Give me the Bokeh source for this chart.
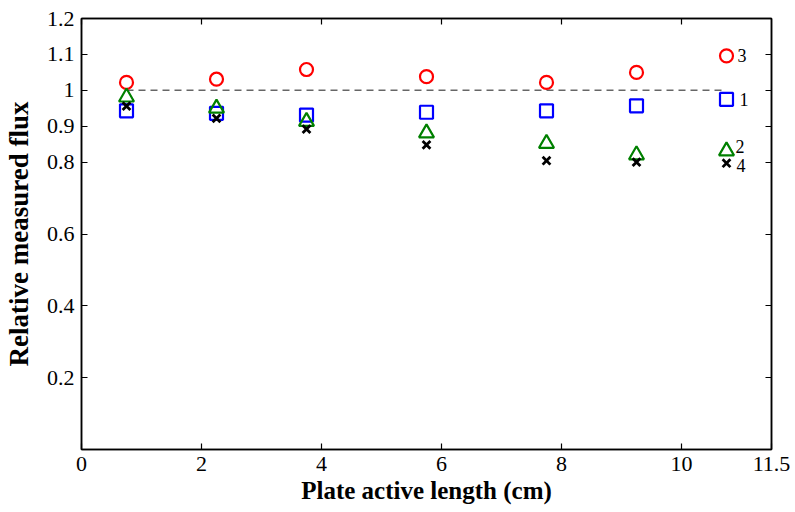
from bokeh.plotting import figure
from bokeh.models import FixedTicker, LinearAxis, Range1d
from bokeh.core.properties import value
from bokeh.embed import file_html
from bokeh.resources import INLINE

# Data
x_pos = [0.75, 2.25, 3.75, 5.75, 7.75, 9.25, 10.75]
series1 = [0.943, 0.936, 0.931, 0.939, 0.943, 0.957, 0.975]   # blue squares
series2 = [0.981, 0.950, 0.913, 0.881, 0.852, 0.820, 0.831]   # green triangles
series3 = [1.022, 1.031, 1.058, 1.038, 1.022, 1.050, 1.096]   # red circles
series4 = [0.956, 0.922, 0.892, 0.848, 0.804, 0.800, 0.797]   # black crosses
ref_value = 1.0
x_ticks = [0, 2, 4, 6, 8, 10, 11.5]
x_tick_labels = ["0", "2", "4", "6", "8", "10", "11.5"]
y_ticks = [0.2, 0.4, 0.6, 0.8, 0.9, 1.0, 1.1, 1.2]
y_tick_labels = ["0.2", "0.4", "0.6", "0.8", "0.9", "1", "1.1", "1.2"]

FONT = "Liberation Serif"

p = figure(width=795, height=512, output_backend="svg", toolbar_location=None,
           x_range=Range1d(0, 11.5), y_range=Range1d(0, 1.2),
           min_border_left=81, min_border_right=24, min_border_top=18, min_border_bottom=63)
p.xgrid.visible = False
p.ygrid.visible = False
p.outline_line_color = "black"
p.outline_line_width = 1.5
p.background_fill_color = "white"


def style_axis(ax, ticks, labels, show_labels=True):
    ax.ticker = FixedTicker(ticks=ticks)
    ax.major_label_overrides = {t: l for t, l in zip(ticks, labels)}
    ax.major_tick_in = 6
    ax.major_tick_out = 0
    ax.minor_tick_in = 0
    ax.minor_tick_out = 0
    ax.axis_line_color = "black"
    ax.axis_line_width = 1.5
    ax.major_tick_line_color = "black"
    ax.major_tick_line_width = 1.2
    ax.major_label_text_font = FONT
    ax.major_label_text_font_size = "22px"
    ax.major_label_text_color = "black"
    ax.major_label_standoff = 7
    if not show_labels:
        ax.major_label_text_alpha = 0.0
        ax.major_label_text_font_size = "1px"
        ax.major_label_standoff = 0


style_axis(p.xaxis[0], x_ticks, x_tick_labels)
style_axis(p.yaxis[0], y_ticks, y_tick_labels)
p.xaxis[0].axis_label = "Plate active length (cm)"
p.yaxis[0].axis_label = "Relative measured flux"
for ax in (p.xaxis[0], p.yaxis[0]):
    ax.axis_label_text_font = FONT
    ax.axis_label_text_font_style = "bold"
    ax.axis_label_text_color = "black"
p.xaxis[0].axis_label_text_font_size = "25px"
p.yaxis[0].axis_label_text_font_size = "27px"
p.xaxis[0].axis_label_standoff = 3
p.yaxis[0].axis_label_standoff = 10

top_ax = LinearAxis()
style_axis(top_ax, [0, 2, 4, 6, 8, 10], x_tick_labels[:6], show_labels=False)
p.add_layout(top_ax, "above")
right_ax = LinearAxis()
style_axis(right_ax, y_ticks, y_tick_labels, show_labels=False)
p.add_layout(right_ax, "right")

# Reference dashed line at 1
p.line([x_pos[0], x_pos[-1]], [ref_value, ref_value], line_color="#666666",
       line_width=1.5, line_dash="7 5")

p.scatter(x_pos, series3, marker="circle", size=13, fill_color=None,
          line_color="#ff0000", line_width=2.2)
p.scatter(x_pos, series1, marker="square", size=13, fill_color=None,
          line_color="#0000ff", line_width=2.2)
p.scatter(x_pos, series2, marker="triangle", size=15, fill_color=None,
          line_color="#008000", line_width=2.2)
p.scatter(x_pos, series4, marker="x", size=11, line_color="black", line_width=2.8)

# Series labels next to last points
labels = [("3", series3[-1], 11, 0), ("1", series1[-1], 13, 0),
          ("2", series2[-1], 9, -5), ("4", series4[-1], 10, 2)]
for txt, yv, xo, yo in labels:
    p.text(x=[x_pos[-1]], y=[yv], text=[txt], x_offset=xo, y_offset=yo,
           text_font=value(FONT), text_font_size="18px", text_color="black",
           text_baseline="middle", text_align="left")

open("out.html", "w").write(file_html(p, INLINE))
